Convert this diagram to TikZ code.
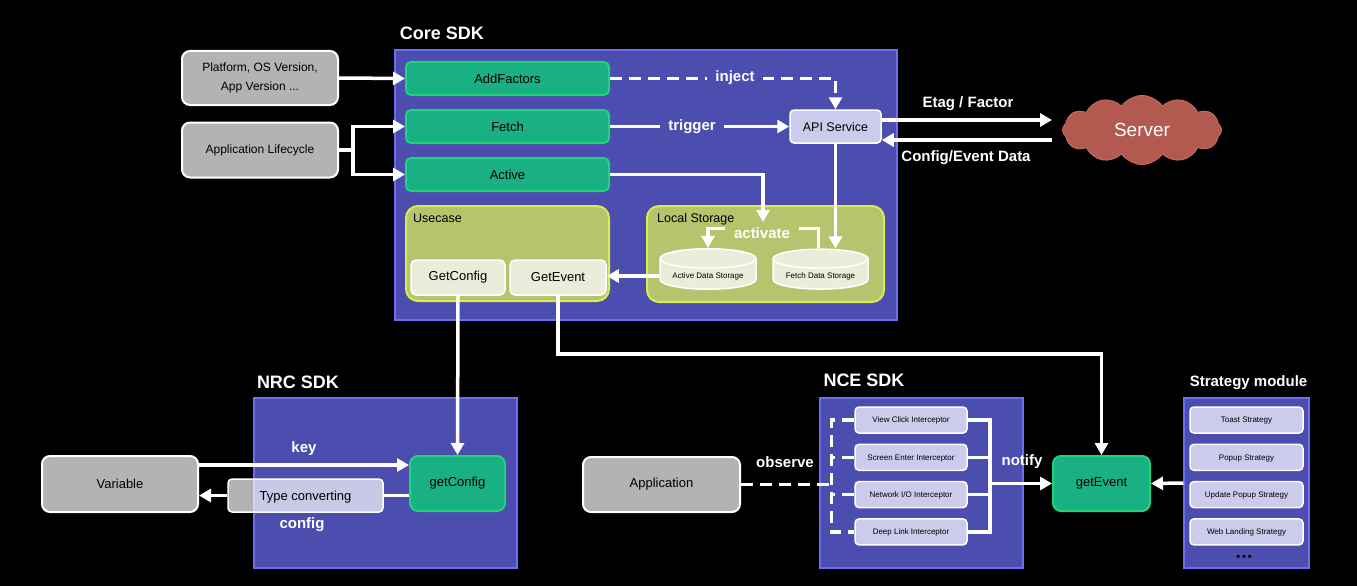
\documentclass[tikz,border=0pt]{standalone}
\usepackage{fontspec}
\setmainfont{Liberation Sans}
\usetikzlibrary{arrows.meta,shapes.geometric,shapes.symbols}

\definecolor{sdkblue}{HTML}{4B4DAF}
\definecolor{sdkedge}{HTML}{6E6EF2}
\definecolor{fngreen}{HTML}{19B084}
\definecolor{fnedge}{HTML}{22D27F}
\definecolor{boxgrey}{HTML}{B3B3B3}
\definecolor{lav}{HTML}{CBCBEB}
\definecolor{olive}{HTML}{B5C46D}
\definecolor{oliveedge}{HTML}{D8EE4E}
\definecolor{cream}{HTML}{E9EDD9}
\definecolor{cloudred}{HTML}{B35A50}
\definecolor{cloudedge}{HTML}{C8685D}

\tikzset{
  sz/.style={font=\fontsize{#1}{#1}\selectfont},
  sdkbox/.style={draw=sdkedge, fill=sdkblue, line width=1.5pt},
  greybox/.style={draw=white, fill=boxgrey, line width=2pt, rounded corners=8pt, text=black, sz=13, align=center},
  fnbox/.style={draw=fnedge, fill=fngreen, line width=2pt, rounded corners=5pt, text=black, sz=13},
  lavbox/.style={draw=white, fill=lav, line width=1.5pt, rounded corners=4pt, text=black, sz=8, text depth=0pt},
  creambox/.style={draw=white, fill=cream, line width=1.5pt, rounded corners=5pt, text=black, sz=13},
  olivebox/.style={draw=oliveedge, fill=olive, line width=2pt, rounded corners=12pt},
  storage/.style={cylinder, shape border rotate=90, aspect=0.25, draw=white, fill=cream, line width=1.5pt, text=black, sz=8},
  title/.style={text=white, font=\fontsize{#1}{#1}\selectfont\bfseries},
  title/.default=18,
  lbl/.style={text=white, font=\fontsize{15}{15}\selectfont\bfseries, inner sep=2pt},
  wline/.style={draw=white, line width=3.5pt},
  arr/.style={wline, -{Triangle[length=12pt,width=13pt]}},
  dashline/.style={dash pattern=on 12pt off 7pt},
}

\begin{document}
\begin{tikzpicture}[x=1pt, y=-1pt]
  \fill[black] (0,0) rectangle (1357,586);

  % core sdk
  \node[sdkbox, minimum width=502, minimum height=270] (core) at (646,185) {};
  \node[title] (coretitle) at (442,33) {Core SDK};
  \node[greybox, minimum width=156, minimum height=54, font=\fontsize{12}{19}\selectfont] (factors) at (260,78) {Platform, OS Version,\\App Version ...};
  \node[greybox, minimum width=156, minimum height=55, sz=12] (life) at (260,150) {Application Lifecycle};
  \node[fnbox, minimum width=203, minimum height=33] (addf) at (507.5,78.5) {AddFactors};
  \node[fnbox, minimum width=203, minimum height=33] (fetch) at (507.5,126.5) {Fetch};
  \node[fnbox, minimum width=203, minimum height=33] (active) at (507.5,174.5) {Active};
  \node[lavbox, sz=12.5, minimum width=91, minimum height=33] (api) at (835.5,126.5) {API Service};

  \node[olivebox, minimum width=203, minimum height=95] (usecase) at (507.5,253.5) {};
  \node[anchor=west, inner sep=0, sz=12.5] (usecaselbl) at (413,218) {Usecase};
  \node[creambox, minimum width=94, minimum height=35] (gcfg) at (458,277.5) {GetConfig};
  \node[creambox, minimum width=96, minimum height=35] (gevt) at (558,277.5) {GetEvent};

  \node[olivebox, minimum width=237, minimum height=96] (local) at (765.5,254) {};
  \node[anchor=west, inner sep=0, sz=12.5] (locallbl) at (657,219) {Local Storage};
  \node[storage, minimum width=96, minimum height=38] (ads) at (708,276) {Active Data Storage};
  \node[storage, minimum width=95, minimum height=38] (fds) at (820.5,276) {Fetch Data Storage};

  \node[cloud, cloud puffs=12, cloud puff arc=110, aspect=2.4, draw=cloudedge, fill=cloudred, line width=1pt,
        minimum width=159, minimum height=69, text=white, sz=19] (server) at (1142,130) {Server};

  \draw[arr] (factors.east) -- (addf.west);
  \draw[arr] (life.east) -- ++(14,0) |- (fetch.west);
  \draw[arr] (life.east) -- ++(14,0) |- (active.west);
  \draw[arr, dashline] (addf.east) -| (api.north);
  \node[lbl, fill=sdkblue, inner xsep=8pt] (inject) at (735,78) {inject};
  \draw[arr] (fetch.east) -- (api.west);
  \node[lbl, fill=sdkblue, inner xsep=8pt] (trigger) at (692,126.5) {trigger};
  \coordinate (actin) at (763,222);
  \draw[arr] (active.east) -| (actin);
  \draw[arr] (api.south) -- (api.south |- fds.north);
  \draw[arr] ([xshift=-2pt]fds.north) -- ++(0,-20) -| (ads.north);
  \node[lbl, fill=olive, inner xsep=9pt] (activate) at (762,233) {activate};
  \draw[arr] (ads.west) -- (gevt.east |- ads.west);

  \draw[arr, shorten >=10pt] ([yshift=6.5pt]api.east) -- ([yshift=6.5pt]api.east -| server.west);
  \draw[arr, shorten <=10pt] ([yshift=-13.5pt]api.east -| server.west) -- ([yshift=-13.5pt]api.east);
  \node[lbl] (etag) at (968,104) {Etag / Factor};
  \node[lbl] (cfgdata) at (966,158) {Config/Event Data};

  % nrc sdk
  \node[sdkbox, minimum width=263, minimum height=170] (nrc) at (385.5,483) {};
  \node[title] (nrctitle) at (298,382) {NRC SDK};
  \node[greybox, minimum width=156, minimum height=56] (var) at (120,484) {Variable};
  \node[fnbox, minimum width=95, minimum height=55, rounded corners=8pt] (ncfg) at (457.5,483.5) {getConfig};
  \node[lavbox, sz=13, fill=white, fill opacity=0.7, text opacity=1, minimum width=155, minimum height=33] (tconv) at (305.5,495.5) {Type converting};
  \draw[arr] ([yshift=19pt]var.east) -- ([yshift=19pt]var.east -| ncfg.west);
  \draw[wline] (ncfg.west |- tconv.east) -- (tconv.east);
  \draw[arr] (tconv.west) -- (var.east |- tconv.west);
  \node[lbl] (key) at (304,449) {key};
  \node[lbl] (config) at (302,525) {config};
  \draw[arr] (gcfg.south) -- (ncfg.north);

  % nce sdk
  \node[sdkbox, minimum width=203, minimum height=170] (nce) at (921.5,483) {};
  \node[title] (ncetitle) at (864,380) {NCE SDK};
  \foreach \nm [count=\i] in {View Click Interceptor, Screen Enter Interceptor, Network I/O Interceptor, Deep Link Interceptor}
    \node[lavbox, minimum width=112, minimum height=26] (icp\i) at (911,{420+37.3*(\i-1)}) {\nm};
  \node[greybox, minimum width=157, minimum height=55] (app) at (661.5,484.5) {Application};
  \node[fnbox, minimum width=97, minimum height=55, rounded corners=8pt] (nev) at (1101.5,483.5) {getEvent};

  \draw[wline, dashline] (icp1.west) -- ++(-23,0) |- (icp4.west);
  \draw[wline, dashline] (icp2.west) -- ++(-23,0);
  \draw[wline, dashline] (icp3.west) -- ++(-23,0);
  \draw[wline, dashline] (app.east) -- ([xshift=-23pt]icp1.west |- app.east);
  \node[lbl] (observe) at (785,462) {observe};

  \draw[wline] (icp1.east) -- ++(22,0) |- (icp4.east);
  \draw[wline] (icp2.east) -- ++(22,0);
  \draw[wline] (icp3.east) -- ++(22,0);
  \draw[arr] ([xshift=22pt]icp1.east |- nev.west) -- (nev.west);
  \node[lbl] (notify) at (1022,462) {notify};
  \draw[arr] (gevt.south) -- ++(0,58) -| (nev.north);

  % strategy module
  \node[sdkbox, minimum width=125, minimum height=170] (stg) at (1246.5,483) {};
  \node[title=15] (stgtitle) at (1248.5,383) {Strategy module};
  \foreach \nm [count=\i] in {Toast Strategy, Popup Strategy, Update Popup Strategy, Web Landing Strategy}
    \node[lavbox, minimum width=113, minimum height=26] (stg\i) at (1246.5,{420+37.3*(\i-1)}) {\nm};
  \node[text=black, sz=11] (more) at (1244,558) {\textbullet\,\textbullet\,\textbullet};
  \draw[arr] (stg.west) -- (nev.east);
\end{tikzpicture}
\end{document}
